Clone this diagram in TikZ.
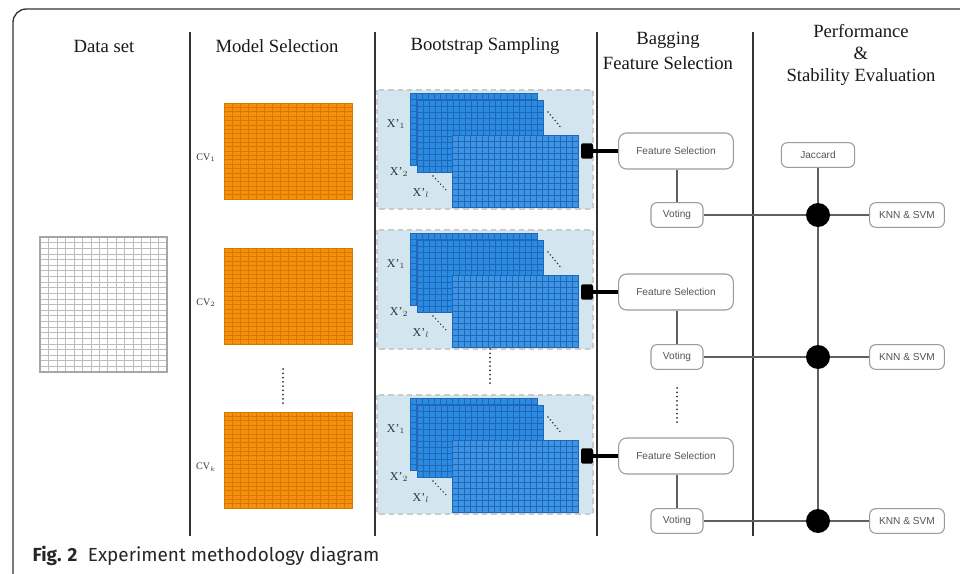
\documentclass[tikz,border=0pt]{standalone}
\usepackage{fontspec}
\setmainfont{Liberation Serif}
\newfontfamily\boxfont{Liberation Sans}
\newfontfamily\capfont{Fira Sans}
\definecolor{framecol}{HTML}{333333}
\definecolor{orangefill}{HTML}{F5900F}
\definecolor{orangeline}{HTML}{D97800}
\definecolor{bluefill}{HTML}{2A8BE2}
\definecolor{blueline}{HTML}{2366B5}
\definecolor{bgblue}{HTML}{D3E6F0}
\definecolor{dashcol}{HTML}{CACACA}
\definecolor{boxline}{HTML}{9A9A9A}
\definecolor{boxtext}{HTML}{555555}
\definecolor{conncol}{HTML}{606060}
\definecolor{datagrid}{HTML}{BDBDBD}
\newcommand\gridrect[8]{%
  \fill[#7] (#1,#2) rectangle ++(#3,#4);
  \foreach \i in {1,...,#5} \draw[#8] ({#1+\i*#3/(#5+1)},#2) -- ++(0,#4);
  \foreach \j in {1,...,#6} \draw[#8] (#1,{#2+\j*#4/(#6+1)}) -- ++(#3,0);
  \draw[#8] (#1,#2) rectangle ++(#3,#4);
}
\begin{document}
\begin{tikzpicture}[x=0.75pt,y=-0.75pt,
  header/.style={font=\fontsize{14}{18.75}\selectfont, text=black!90, align=center},
  fsbox/.style={draw=boxline, line width=0.8pt, rounded corners=6pt, fill=white,
     minimum width=86pt, minimum height=27pt, inner sep=0pt,
     font=\boxfont\fontsize{7.6}{9}\selectfont, text=boxtext},
  smallbox/.style={draw=boxline, line width=0.8pt, rounded corners=4.5pt, fill=white,
     minimum height=18.5pt, inner sep=0pt,
     font=\boxfont\fontsize{7.6}{9}\selectfont, text=boxtext},
  bigdot/.style={circle, fill=black, minimum size=18pt, inner sep=0pt},
  plugbox/.style={fill=black, rounded corners=1.2pt, minimum width=9pt, minimum height=11.5pt, inner sep=0pt},
  conn/.style={draw=conncol, line width=1pt},
  divider/.style={draw=framecol, line width=1pt},
  dotline/.style={line width=1.5pt, line cap=round, dash pattern=on 0pt off 3.2pt, black!80},
  cvlab/.style={font=\fontsize{7.5}{9}\selectfont, text=black!80},
  xlab/.style={font=\fontsize{9}{11}\selectfont, text=black!80}
]
\useasboundingbox (0,0) rectangle (960,574);
% frame
\draw[framecol, line width=1pt, rounded corners=10pt] (13,574) -- (13,9) -- (961,9);
% dividers
\foreach \xx in {190,375,597,753} \draw[divider] (\xx,32) -- (\xx,536);
% headers
\node[header] (h1) at (104,46) {Data set};
\node[header] (h2) at (277,46) {Model Selection};
\node[header] (h3) at (485,46) {Bootstrap Sampling};
\node[header] (h4) at (668,51) {Bagging\\Feature Selection};
\node[header, font=\fontsize{14}{16.5}\selectfont] (h5) at (861,55) {Performance\\\&\\Stability Evaluation};
% data set grid
\fill[white] (40,237) rectangle (167,372);
\foreach \i in {1,...,14} \draw[datagrid, line width=0.4pt] ({40+\i*127/15},237) -- ++(0,135);
\foreach \j in {1,...,23} \draw[datagrid, line width=0.4pt] (40,{237+\j*135/24}) -- ++(127,0);
\draw[black!35, line width=0.8pt] (40,237) rectangle (167,372);
% rows
\foreach \k/\bo/\cv/\fs/\vo/\sub in {1/0/103/151/215/1, 2/140/248/292/357/2, 3/305/412/456/521/k} {
  % orange CV matrix
  \gridrect{224}{\cv}{128}{96}{15}{21}{orangefill}{orangeline, line width=0.35pt}
  \node[cvlab] (cv\k) at (206,\cv+55) {CV$_{\sub}$};
  % bootstrap box
  \fill[bgblue] (377,\bo+90) rectangle (593,\bo+209);
  \draw[dashcol, line width=1.5pt, dash pattern=on 4pt off 3pt] (377,\bo+90) rectangle (593,\bo+209);
  \gridrect{410}{\bo+93}{127}{72}{20}{11}{bluefill}{blueline, line width=0.35pt}
  \gridrect{417}{\bo+100}{126}{72}{20}{11}{bluefill}{blueline, line width=0.35pt}
  \gridrect{452}{\bo+135}{126}{72}{20}{11}{bluefill!92!white}{blueline, line width=0.35pt}
  \node[xlab] (xa\k) at (396,\bo+124) {X'$_1$};
  \node[xlab] (xb\k) at (399,\bo+172) {X'$_2$};
  \node[xlab] (xc\k) at (421,\bo+193) {X'$_l$};
  \draw[dotline, line width=1.2pt, dash pattern=on 0pt off 2.8pt] (548,\bo+112) -- (562,\bo+129);
  \draw[dotline, line width=1.2pt, dash pattern=on 0pt off 2.8pt] (433,\bo+176) -- (447,\bo+191);
  % plug and feature selection
  \node[plugbox] (plug\k) at (587,\fs) {};
  \node[fsbox] (fs\k) at (676,\fs) {Feature Selection};
  \draw[black, line width=3.6pt] (plug\k.center) -- (fs\k.west);
  \node[smallbox, minimum width=39pt] (vote\k) at (677,\vo) {Voting};
  \draw[conn] (fs\k.south -| vote\k) -- (vote\k.north);
  \node[smallbox, minimum width=56pt] (knn\k) at (907,\vo) {KNN \& SVM};
  \node[bigdot] (dot\k) at (818,\vo) {};
  \draw[conn] (vote\k.east) -- (dot\k.west);
  \draw[conn] (dot\k.east) -- (knn\k.west);
}
% Jaccard and evaluation spine
\node[smallbox, minimum width=55pt] (jac) at (818,155) {Jaccard};
\draw[conn] (jac.south) -- (dot1.north);
\draw[conn] (dot1.south) -- (dot2.north);
\draw[conn] (dot2.south) -- (dot3.north);
% ellipsis dots
\coordinate (oa) at (283,369); \coordinate (ob) at (283,405);
\draw[dotline] (oa) -- (ob);
\coordinate (ba) at (490,349); \coordinate (bb) at (490,386);
\draw[dotline] (ba) -- (bb);
\coordinate (fa) at (677,388); \coordinate (fb) at (677,425);
\draw[dotline] (fa) -- (fb);
% caption
\node[anchor=west, font=\capfont\fontsize{14.2}{17}\selectfont, text=black!85] (cap) at (28,556)
  {\textbf{Fig. 2}\hspace{0.55em}Experiment methodology diagram};
\end{tikzpicture}
\end{document}
